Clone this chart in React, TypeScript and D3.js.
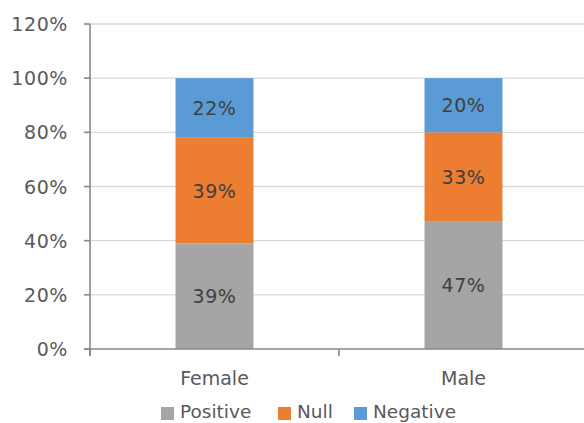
import React from "react";
import * as d3 from "d3";

const categories = ["Female", "Male"];
const seriesNames = ["Positive", "Null", "Negative"];
const positive = [39, 47];
const nullVals = [39, 33];
const negative = [22, 20];
const yTicks = [0, 20, 40, 60, 80, 100, 120];
const colors = ["#A5A5A5", "#ED7D31", "#5B9BD5"];

const W = 584;
const H = 423;
const FONT = "'DejaVu Sans', sans-serif";

export default function App() {
  const left = 90;
  const right = 588;
  const top = 24;
  const bottom = 349;

  const x = d3.scaleBand<string>().domain(categories).range([left, right]).paddingInner(0.687).paddingOuter(0.3435);
  const y = d3.scaleLinear().domain([0, 120]).range([bottom, top]);

  const rows = categories.map((c, i) => ({ cat: c, Positive: positive[i], Null: nullVals[i], Negative: negative[i] }));
  const stacked = d3.stack<any>().keys(seriesNames)(rows);

  const step = (right - left) / categories.length;
  const catTicks = d3.range(categories.length + 1).map((i) => left + i * step);

  const legendItems = [
    { name: "Positive", x: 161 },
    { name: "Null", x: 278 },
    { name: "Negative", x: 354 },
  ];

  return (
    <svg width={W} height={H} style={{ position: "absolute", left: 0, top: 0, background: "#fff" }}>
      {/* gridlines */}
      {yTicks.filter((t) => t > 0).map((t) => (
        <line key={t} x1={left} x2={W} y1={y(t)} y2={y(t)} stroke="#D9D9D9" strokeWidth={1.3} />
      ))}
      {/* stacked bars */}
      {stacked.map((layer, si) =>
        layer.map((d, i) => (
          <rect
            key={`${si}-${i}`}
            x={x(categories[i])}
            y={y(d[1])}
            width={x.bandwidth()}
            height={y(d[0]) - y(d[1])}
            fill={colors[si]}
          />
        ))
      )}
      {/* value labels */}
      {stacked.map((layer, si) =>
        layer.map((d, i) => (
          <text
            key={`l-${si}-${i}`}
            x={(x(categories[i]) as number) + x.bandwidth() / 2}
            y={(y(d[0]) + y(d[1])) / 2 + 7}
            textAnchor="middle"
            fontFamily={FONT}
            fontSize={19}
            letterSpacing={0.6}
            fill="#404040"
          >
            {`${d[1] - d[0]}%`}
          </text>
        ))
      )}
      {/* axes */}
      <line x1={left} x2={left} y1={top} y2={bottom + 7} stroke="#898989" strokeWidth={1.6} />
      <line x1={left - 6} x2={W} y1={bottom} y2={bottom} stroke="#898989" strokeWidth={1.6} />
      {yTicks.map((t) => (
        <g key={`yt-${t}`}>
          <line x1={left - 6} x2={left} y1={y(t)} y2={y(t)} stroke="#898989" strokeWidth={1.6} />
          <text x={68} y={y(t) + 7} textAnchor="end" fontFamily={FONT} fontSize={19} letterSpacing={0.6} fill="#595959">
            {`${t}%`}
          </text>
        </g>
      ))}
      {catTicks.map((cx, i) => (
        <line key={`xt-${i}`} x1={cx} x2={cx} y1={bottom} y2={bottom + 7} stroke="#898989" strokeWidth={1.6} />
      ))}
      {categories.map((c) => (
        <text
          key={c}
          x={(x(c) as number) + x.bandwidth() / 2}
          y={385}
          textAnchor="middle"
          fontFamily={FONT}
          fontSize={19}
          fill="#595959"
        >
          {c}
        </text>
      ))}
      {/* legend */}
      {legendItems.map((it, i) => (
        <g key={it.name}>
          <rect x={it.x} y={407} width={13} height={13} fill={colors[i]} />
          <text x={it.x + 19} y={418} fontFamily={FONT} fontSize={18.5} fill="#595959">
            {it.name}
          </text>
        </g>
      ))}
    </svg>
  );
}
